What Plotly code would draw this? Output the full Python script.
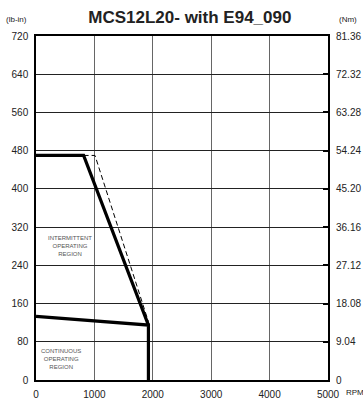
import plotly.graph_objects as go

# Data (RPM, lb-in)
cont_rpm = [0, 1925, 1925]
cont_torque = [133, 115, 0]
int_rpm = [0, 815, 1925]
int_torque = [470, 470, 115]
dash_rpm = [815, 1010, 1925]
dash_torque = [470, 470, 122]

x_ticks = [0, 1000, 2000, 3000, 4000, 5000]
y_ticks = [0, 80, 160, 240, 320, 400, 480, 560, 640, 720]
nm_ticks = [0, 9.04, 18.08, 27.12, 36.16, 45.20, 54.24, 63.28, 72.32, 81.36]
nm_labels = ["0", "9.04", "18.08", "27.12", "36.16", "45.20", "54.24", "63.28", "72.32", "81.36"]

fig = go.Figure()
fig.add_trace(go.Scatter(x=dash_rpm, y=dash_torque, mode="lines",
                         line=dict(color="black", width=1, dash="5px,3px"), showlegend=False))
fig.add_trace(go.Scatter(x=int_rpm, y=int_torque, mode="lines",
                         line=dict(color="black", width=3.2), showlegend=False))
fig.add_trace(go.Scatter(x=cont_rpm, y=cont_torque, mode="lines",
                         line=dict(color="black", width=3.2), showlegend=False))
fig.add_trace(go.Scatter(x=[0], y=[0], yaxis="y2", mode="markers",
                         marker=dict(opacity=0), showlegend=False, hoverinfo="skip"))

FONT = "Arial, Liberation Sans, sans-serif"
font_ax = dict(family=FONT, size=10, color="#222")

fig.update_layout(
    width=363, height=400,
    margin=dict(l=36, r=35, t=36, b=20, autoexpand=False),
    paper_bgcolor="white", plot_bgcolor="white",
    title=dict(text="<b>MCS12L20- with E94_090</b>", x=0.523, xanchor="center", y=0.958, yanchor="middle",
               font=dict(family=FONT, size=17, color="#222")),
    xaxis=dict(range=[0, 5000], tickvals=x_ticks, showgrid=True, gridcolor="#666", gridwidth=1,
               zeroline=False, showline=True, linecolor="black", linewidth=1.5, mirror=True,
               ticks="", tickfont=font_ax, ticklabelstandoff=4, automargin=False),
    yaxis=dict(range=[0, 720], tickvals=y_ticks, showgrid=True, gridcolor="#222", gridwidth=1,
               zeroline=False, showline=True, linecolor="black", linewidth=1.5, mirror=True,
               ticks="", tickfont=font_ax, ticklabelstandoff=4, automargin=False),
    yaxis2=dict(range=[0, 81.36], tickvals=nm_ticks, ticktext=nm_labels, overlaying="y", side="right",
                showgrid=False, zeroline=False, showline=False, ticks="inside", ticklen=5,
                tickcolor="black", tickwidth=2, tickfont=font_ax, ticklabelstandoff=7,
                automargin=False),
    annotations=[
        dict(text="(lb-in)", xref="paper", yref="paper", x=-0.11, y=1.047, xanchor="left", yanchor="middle",
             showarrow=False, font=dict(family=FONT, size=8, color="#222")),
        dict(text="(Nm)", xref="paper", yref="paper", x=1.03, y=1.047, xanchor="left", yanchor="middle",
             showarrow=False, font=dict(family=FONT, size=8, color="#222")),
        dict(text="RPM", xref="paper", yref="paper", x=1.055, y=-0.037, xanchor="left", yanchor="middle",
             showarrow=False, font=dict(family=FONT, size=8, color="#222")),
        dict(text="INTERMITTENT<br>OPERATING<br>REGION", x=590, y=280, xref="x", yref="y",
             showarrow=False, bgcolor="white", borderpad=1,
             font=dict(family=FONT, size=6, color="#555")),
        dict(text="CONTINUOUS<br>OPERATING<br>REGION", x=420, y=44, xref="x", yref="y",
             showarrow=False, bgcolor="white", borderpad=1,
             font=dict(family=FONT, size=6, color="#555")),
    ],
)

fig.write_html("out.html", config={"responsive": False, "displayModeBar": False},
               post_script="document.body.style.margin='0';document.body.style.overflow='hidden';")
